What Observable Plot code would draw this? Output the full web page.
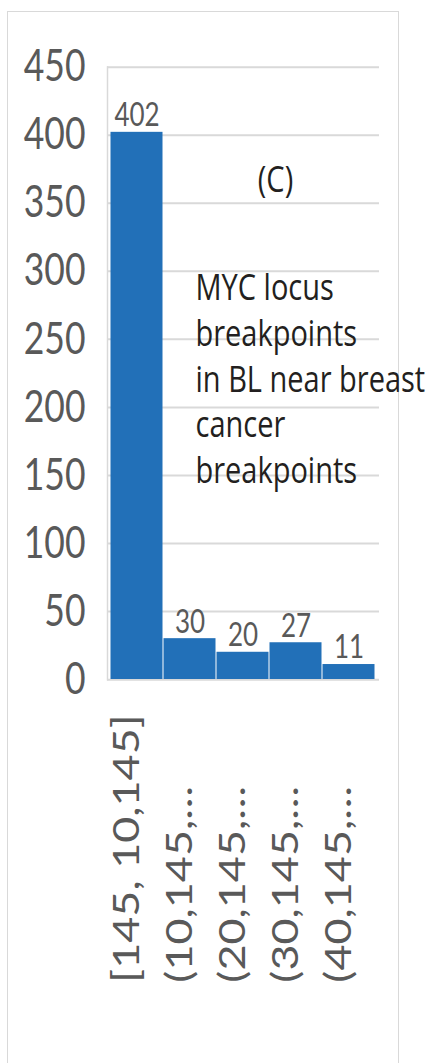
<!DOCTYPE html>
<html>
<head>
<meta charset="utf-8">
<script src="https://cdn.jsdelivr.net/npm/d3@7"></script>
<script src="https://cdn.jsdelivr.net/npm/@observablehq/plot@0.6"></script>
<style>
  html, body { margin: 0; padding: 0; overflow: hidden; background: #fff; width: 444px; height: 1063px; }
  #border { position: absolute; left: 7px; top: 11px; width: 392px; height: 1200px; border: 1.5px solid #d9d9d9; box-sizing: border-box; }
  #chart { position: absolute; left: 0; top: 0; }
  g[aria-label="note"] text { letter-spacing: 0.8px; }
  g[aria-label="panel"] text { letter-spacing: 0.5px; }
</style>
</head>
<body>
<div id="border"></div>
<div id="chart"></div>
<script>
// ---- data ----
const categories = ["[145, 10,145]", "(10,145,…", "(20,145,…", "(30,145,…", "(40,145,…"];
const counts = [402, 30, 20, 27, 11];
const yTicks = [0, 50, 100, 150, 200, 250, 300, 350, 400, 450];
const panelLabel = "(C)";
const noteLines = ["MYC locus", "breakpoints", "in BL near breast", "cancer", "breakpoints"];

const data = categories.map((c, i) => ({category: c, count: counts[i]}));

const K = 1.25; // vertical stretch of the whole picture

const chart = Plot.plot({
  width: 444,
  height: 851,
  marginLeft: 108.5,
  marginRight: 67,
  marginTop: 53.2,
  marginBottom: 307.8,
  style: {fontFamily: "Lato", background: "transparent", overflow: "visible"},
  x: {domain: categories, padding: 0, axis: null},
  y: {domain: [0, 450], axis: null},
  marks: [
    Plot.gridY(yTicks, {stroke: "#d9d9d9", strokeOpacity: 1, strokeWidth: 1.6, insetLeft: -1.5, insetRight: -2}),
    Plot.frame({anchor: "left", stroke: "#d9d9d9", strokeWidth: 1.5, dx: -1.5}),
    Plot.axisY(yTicks, {tickSize: 0, tickPadding: 23.5, fontSize: 35.5, fill: "#595959", label: null}),
    Plot.barY(data, {x: "category", y: "count", fill: "#2270b8", insetLeft: 0.5, insetRight: 0.5}),
    Plot.text(data, {x: "category", y: "count", text: d => String(d.count), lineAnchor: "bottom", dy: -5, fontSize: 26, fill: "#595959"}),
    Plot.text(data, {x: "category", text: "category", frameAnchor: "bottom", rotate: -90, textAnchor: "start", dy: 242.4, dx: 2, fontSize: 36, fill: "#595959"}),
    Plot.text([panelLabel], {text: d => d, frameAnchor: "top-left", dx: 166.5, dy: 90.8, textAnchor: "middle", lineAnchor: "middle", fontSize: 29, fontFamily: "Open Sans", fill: "#231f20", ariaLabel: "panel"}),
    Plot.text([noteLines.join("\n")], {text: d => d, frameAnchor: "top-left", dx: 86.5, dy: 160.4, textAnchor: "start", lineAnchor: "top", lineHeight: 1.262, fontSize: 29, fontFamily: "Open Sans", fill: "#231f20", ariaLabel: "note"})
  ]
});
chart.style.transform = `scaleY(${K})`;
chart.style.transformOrigin = "0 0";
document.getElementById("chart").appendChild(chart);
</script>
</body>
</html>
